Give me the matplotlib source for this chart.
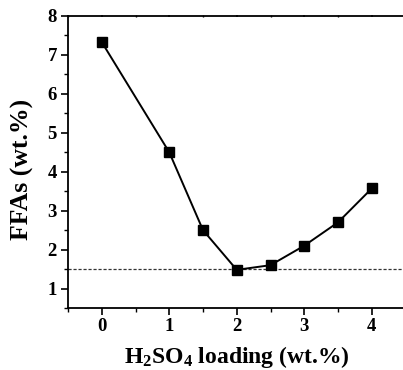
import matplotlib
matplotlib.use("Agg")
import matplotlib.pyplot as plt
from matplotlib.ticker import MultipleLocator

loading = [0, 1, 1.5, 2, 2.5, 3, 3.5, 4]
ffas = [7.33, 4.5, 2.5, 1.48, 1.6, 2.1, 2.7, 3.57]
ref_level = 1.5
xticks = [0, 1, 2, 3, 4]
yticks = [1, 2, 3, 4, 5, 6, 7, 8]

plt.rcParams['font.family'] = ['Liberation Serif', 'DejaVu Serif']
plt.rcParams['font.weight'] = 'bold'
plt.rcParams['mathtext.fontset'] = 'custom'
plt.rcParams['mathtext.rm'] = 'Liberation Serif:bold'
plt.rcParams['mathtext.bf'] = 'Liberation Serif:bold'
plt.rcParams['mathtext.it'] = 'Liberation Serif:bold'

fig = plt.figure(figsize=(4.03, 3.70), dpi=100)
W, H = 403, 370
ax = fig.add_axes([68 / W, 62 / H, 337.5 / W, 292 / H])

ax.axhline(ref_level, color='#333333', lw=0.9, ls=(0, (2.5, 1.5)), zorder=1)
ax.plot(loading, ffas, color='black', lw=1.4, marker='s', ms=6.5,
        markerfacecolor='black', markeredgecolor='black', zorder=3)

ax.set_xlim(-0.5, 4.5)
ax.set_ylim(0.5, 8)
ax.set_xticks(xticks)
ax.set_yticks(yticks)
ax.xaxis.set_minor_locator(MultipleLocator(0.5))
ax.yaxis.set_minor_locator(MultipleLocator(0.5))

ax.tick_params(axis='both', which='major', direction='out', length=5, width=1.2,
               labelsize=13.5, pad=3)
ax.tick_params(axis='both', which='minor', direction='out', length=3, width=1.0)
ax.tick_params(axis='x', which='major', pad=5)
ax.tick_params(axis='x', which='both', top=True)
ax.xaxis.set_tick_params(which='both', direction='inout')
ax.tick_params(axis='x', which='major', length=5)
for t in ax.xaxis.get_major_ticks() + ax.xaxis.get_minor_ticks():
    t.tick2line.set_markersize(2)
    t.tick1line.set_marker(matplotlib.markers.TICKDOWN)
for lab in ax.get_xticklabels() + ax.get_yticklabels():
    lab.set_fontweight('bold')

for s in ax.spines.values():
    s.set_linewidth(1.3)

ax.set_xlabel('H$_2$SO$_4$ loading (wt.%)', fontsize=17, fontweight='bold', labelpad=6)
ax.set_ylabel('FFAs (wt.%)', fontsize=18.5, fontweight='bold')
ax.yaxis.set_label_coords(-0.10, 0.475)

fig.savefig('out.png', dpi=100)
